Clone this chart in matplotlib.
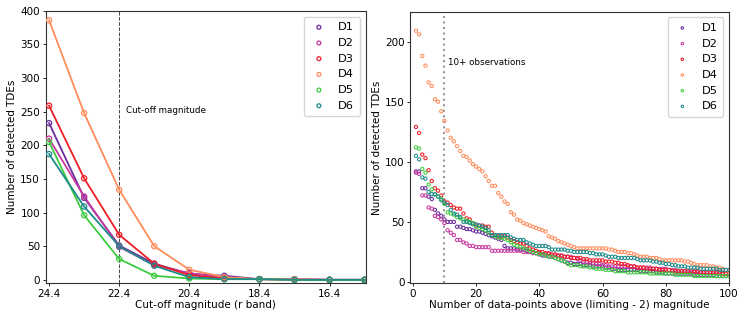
import numpy as np
import matplotlib
matplotlib.use("Agg")
import matplotlib.pyplot as plt

labels = ["D1", "D2", "D3", "D4", "D5", "D6"]
colors = ["#6a2c9e", "#c8389f", "#ee1c25", "#ff8c5a", "#3dcc3d", "#1f8a8a"]

# left panel: detected TDEs vs cut-off magnitude
mags = [24.4, 23.4, 22.4, 21.4, 20.4, 19.4, 18.4, 17.4, 16.4, 15.4]
cut_D1 = [233, 122, 51, 24, 9, 6, 1, 1, 0, 0]
cut_D2 = [210, 124, 49, 22, 10, 3, 1, 1, 0, 0]
cut_D3 = [259, 151, 67, 24, 7, 2, 1, 0, 0, 0]
cut_D4 = [386, 248, 134, 50, 15, 4, 1, 1, 0, 0]
cut_D5 = [205, 96, 31, 6, 2, 1, 1, 0, 0, 0]
cut_D6 = [187, 109, 50, 21, 4, 1, 1, 0, 0, 0]

# right panel: detected TDEs vs number of data points (1..100)
npts = list(range(1, 101))
obs_D1 = [92, 92, 78, 78, 71, 69, 60, 57, 55, 52,
          50, 50, 50, 46, 46, 45, 44, 44, 43, 42,
          42, 41, 40, 39, 38, 37, 36, 35, 30, 28,
          28, 28, 27, 27, 27, 26, 25, 25, 24, 23,
          22, 22, 21, 21, 20, 19, 18, 17, 16, 16,
          15, 15, 15, 14, 14, 14, 13, 13, 13, 13,
          12, 12, 11, 11, 10, 10, 10, 10, 10, 10,
          10, 9, 9, 9, 9, 9, 8, 8, 8, 7,
          7, 7, 7, 7, 7, 7, 7, 7, 6, 6,
          6, 6, 6, 6, 6, 5, 5, 5, 5, 5]
obs_D2 = [91, 90, 72, 72, 62, 61, 55, 54, 52, 49,
          43, 41, 39, 35, 35, 33, 32, 30, 30, 29,
          29, 29, 29, 29, 26, 26, 26, 26, 26, 26,
          26, 26, 26, 26, 25, 25, 25, 24, 24, 24,
          23, 23, 23, 22, 22, 22, 22, 21, 21, 21,
          20, 19, 18, 17, 17, 16, 16, 15, 15, 14,
          14, 13, 13, 13, 13, 13, 13, 13, 13, 13,
          12, 12, 12, 12, 12, 11, 11, 11, 11, 11,
          10, 10, 10, 9, 9, 9, 8, 8, 8, 8,
          8, 8, 8, 8, 8, 7, 7, 7, 7, 7]
obs_D3 = [129, 124, 106, 103, 93, 84, 78, 76, 72, 67,
          66, 64, 62, 61, 61, 57, 53, 52, 49, 47,
          47, 47, 46, 46, 41, 39, 38, 38, 38, 37,
          35, 34, 33, 32, 32, 30, 28, 27, 26, 25,
          25, 24, 24, 23, 23, 22, 22, 21, 21, 20,
          20, 20, 20, 19, 19, 18, 18, 18, 18, 18,
          17, 17, 17, 16, 16, 15, 15, 14, 13, 13,
          12, 12, 12, 11, 11, 11, 11, 10, 10, 10,
          10, 9, 9, 9, 9, 9, 9, 9, 9, 9,
          8, 8, 8, 8, 8, 8, 8, 7, 7, 7]
obs_D4 = [209, 206, 188, 180, 166, 163, 152, 150, 142, 134,
          126, 120, 117, 113, 109, 105, 104, 101, 98, 96,
          94, 92, 88, 84, 80, 80, 74, 71, 67, 65,
          58, 56, 52, 51, 49, 48, 47, 46, 45, 44,
          43, 42, 38, 37, 36, 34, 33, 32, 31, 30,
          29, 28, 28, 28, 28, 28, 28, 28, 28, 28,
          28, 27, 27, 26, 25, 25, 25, 24, 24, 23,
          22, 21, 21, 21, 20, 20, 20, 19, 18, 18,
          18, 18, 18, 18, 18, 17, 17, 16, 15, 14,
          14, 14, 14, 13, 13, 12, 12, 11, 10, 9]
obs_D5 = [112, 111, 94, 91, 81, 77, 73, 71, 69, 65,
          58, 57, 56, 54, 53, 52, 51, 50, 49, 46,
          45, 44, 43, 41, 39, 38, 37, 37, 36, 35,
          33, 31, 30, 29, 28, 27, 26, 25, 24, 23,
          23, 22, 21, 21, 20, 19, 18, 17, 15, 14,
          14, 14, 13, 13, 13, 12, 12, 11, 11, 11,
          10, 10, 10, 9, 9, 9, 9, 8, 8, 8,
          8, 8, 8, 8, 7, 7, 7, 7, 7, 7,
          7, 7, 6, 6, 6, 6, 6, 6, 5, 5,
          5, 5, 5, 5, 5, 5, 5, 5, 5, 5]
obs_D6 = [105, 102, 87, 86, 75, 73, 73, 71, 68, 66,
          64, 60, 57, 56, 54, 50, 50, 49, 48, 48,
          47, 46, 45, 43, 39, 39, 39, 39, 39, 39,
          37, 36, 35, 35, 35, 33, 32, 31, 30, 30,
          30, 30, 29, 27, 27, 27, 27, 27, 26, 26,
          25, 25, 25, 25, 25, 24, 24, 23, 23, 23,
          22, 21, 21, 21, 20, 20, 20, 20, 20, 20,
          19, 18, 18, 18, 18, 17, 17, 16, 16, 15,
          15, 14, 14, 13, 13, 13, 12, 12, 12, 12,
          11, 11, 11, 11, 11, 11, 10, 10, 10, 10]

cut_all = [cut_D1, cut_D2, cut_D3, cut_D4, cut_D5, cut_D6]
obs_all = [obs_D1, obs_D2, obs_D3, obs_D4, obs_D5, obs_D6]

plt.rcParams['font.family'] = 'DejaVu Sans'
plt.rcParams['font.size'] = 7.5
plt.rcParams['axes.edgecolor'] = '#333333'

fig = plt.figure(figsize=(7.47, 3.2), dpi=100)
ax1 = fig.add_axes([0.061, 0.115, 0.4285, 0.851])
ax2 = fig.add_axes([0.549, 0.115, 0.427, 0.849])

for y, c, lab in zip(cut_all, colors, labels):
    ax1.plot(mags, y, color=c, lw=1.3, zorder=2)
    ax1.scatter(mags, y, s=14, facecolors='none', edgecolors=c, linewidths=0.9, label=lab, zorder=3)
ax1.axvline(22.4, color='#444444', ls='--', lw=0.7, zorder=1)
ax1.text(22.22, 252, "Cut-off magnitude", fontsize=6.3, va='center', ha='left')
ax1.set_xlim(24.5, 15.37)
ax1.set_ylim(-5, 400)
ax1.set_xticks([24.4, 22.4, 20.4, 18.4, 16.4])
ax1.set_xticklabels(["24.4", "22.4", "20.4", "18.4", "16.4"])
ax1.set_xlabel("Cut-off magnitude (r band)", labelpad=1)
ax1.set_ylabel("Number of detected TDEs", labelpad=2)
ax1.tick_params(length=2.5, width=0.6, pad=1.5)
ax1.legend(loc='upper right', fontsize=8.2, markerscale=0.75, handletextpad=0.9,
           borderpad=0.5, labelspacing=0.5, handlelength=1.6)

for y, c, lab in zip(obs_all, colors, labels):
    ax2.scatter(npts, y, s=5.5, facecolors='none', edgecolors=c, linewidths=0.75, label=lab, zorder=3)
ax2.axvline(10, color='#999999', ls=':', lw=1.5, zorder=1)
ax2.text(11.0, 183, "10+ observations", fontsize=6.3, va='center', ha='left')
ax2.set_xlim(-0.85, 100)
ax2.set_ylim(-1, 225)
ax2.set_xticks([0, 20, 40, 60, 80, 100])
ax2.set_yticks([0, 50, 100, 150, 200])
ax2.set_xlabel("Number of data-points above (limiting - 2) magnitude", labelpad=1)
ax2.set_ylabel("Number of detected TDEs", labelpad=2)
ax2.tick_params(length=2.5, width=0.6, pad=1.5)
ax2.legend(loc='upper right', fontsize=8.2, markerscale=0.75, handletextpad=0.9,
           borderpad=0.5, labelspacing=0.5, handlelength=1.6)

fig.savefig("out.png", dpi=100)
